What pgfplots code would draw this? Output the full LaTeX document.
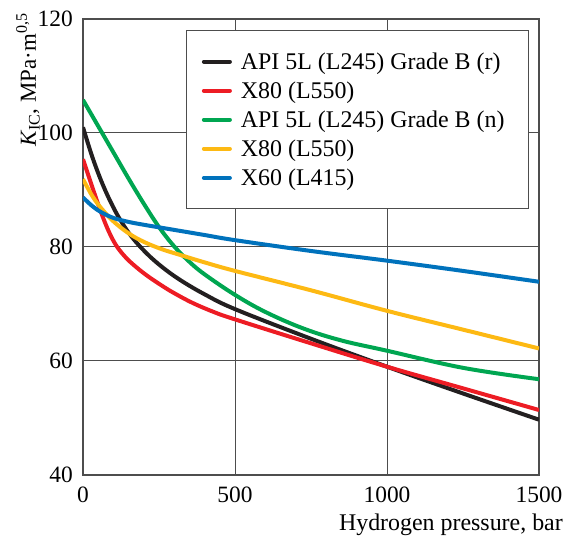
\documentclass[border=0pt]{standalone}
\usepackage{fontspec}
\setmainfont{Liberation Serif}
\usepackage{pgfplots}
\pgfplotsset{compat=1.18}
\definecolor{cblack}{HTML}{231F20}
\definecolor{cred}{HTML}{ED1C24}
\definecolor{cgreen}{HTML}{00A651}
\definecolor{cyellow}{HTML}{FDB913}
\definecolor{cblue}{HTML}{0072BC}
\definecolor{gridc}{HTML}{4D4D4D}
\begin{document}
\begin{tikzpicture}
\begin{axis}[
  width=456bp, height=456bp, scale only axis,
  xmin=0, xmax=1500, ymin=40, ymax=120,
  xtick={0,500,1000,1500}, ytick={40,60,80,100,120},
  xticklabels={0,500,1000,1500}, yticklabels={40,60,80,100,120},
  grid=major,
  major grid style={draw=gridc, line width=1bp},
  axis line style={draw=gridc, line width=1.2bp},
  major tick length=0pt,
  tick label style={font=\fontsize{23.5}{27}\selectfont},
  xticklabel style={inner sep=0pt, anchor=north, yshift=-12bp},
  yticklabel style={inner sep=0pt, anchor=east, xshift=-10bp},
  label style={font=\fontsize{24}{28}\selectfont},
  xlabel={Hydrogen pressure, bar},
  xlabel style={at={(axis description cs:1.0526,-0.0855)}, anchor=north east, inner sep=0pt},
  ylabel={\textit{K}\textsubscript{IC}, MPa·m\textsuperscript{0,5}},
  ylabel style={at={(axis description cs:-0.0943,1.013)}, anchor=south east, inner sep=0pt, font=\fontsize{23}{27}\selectfont},
  legend cell align=left,
  legend style={at={(1,1)}, anchor=north east, xshift=-10bp, yshift=-11bp,
    draw=gridc, line width=1bp, font=\fontsize{24}{28}\selectfont,
    inner xsep=15bp, inner ysep=16.5bp,
    nodes={inner ysep=5.5bp, inner xsep=9bp}},
  legend image code/.code={\draw[#1, line cap=round] (0bp,0bp) -- (26bp,0bp);},
  every axis plot/.append style={line width=4bp, smooth, tension=0.6, line join=round},
]
\addplot[cblack] coordinates {(0,101) (30,95.9) (60,91.6) (90,88.0) (122,84.8) (160,81.8) (209,78.9) (260,76.5) (320,74.2) (400,71.7) (500,69.1) (750,63.9) (1000,59.0) (1250,54.3) (1500,49.7)};
\addlegendentry{API 5L (L245) Grade B (r)}
\addplot[cred] coordinates {(0,95.4) (30,90.6) (60,86.0) (85,82.7) (110,80.2) (140,78.2) (170,76.7) (210,75.0) (260,73.2) (300,71.9) (360,70.2) (430,68.6) (500,67.3) (750,63.1) (1000,59.0) (1250,55.2) (1500,51.4)};
\addlegendentry{X80 (L550)}
\addplot[cgreen] coordinates {(0,105.8) (50,101.2) (100,96.6) (150,92.0) (200,87.6) (250,83.5) (300,80.1) (350,77.4) (400,75.2) (500,71.6) (600,68.6) (725,65.7) (850,63.6) (1000,61.8) (1250,58.8) (1500,56.8)};
\addlegendentry{API 5L (L245) Grade B (n)}
\addplot[cyellow] coordinates {(0,91.9) (30,89.0) (60,86.8) (100,84.5) (150,82.4) (200,80.9) (260,79.6) (320,78.6) (400,77.3) (500,75.8) (750,72.4) (1000,68.8) (1250,65.5) (1500,62.2)};
\addlegendentry{X80 (L550)}
\addplot[cblue] coordinates {(0,88.7) (30,87.2) (60,86.1) (100,85.1) (150,84.4) (200,83.9) (300,83.0) (400,82.1) (500,81.2) (750,79.3) (1000,77.6) (1250,75.8) (1500,73.9)};
\addlegendentry{X60 (L415)}
\end{axis}
\path ([xshift=-83bp,yshift=-64bp]current axis.south west) rectangle ([xshift=26bp,yshift=19bp]current axis.north east);
\end{tikzpicture}
\end{document}
